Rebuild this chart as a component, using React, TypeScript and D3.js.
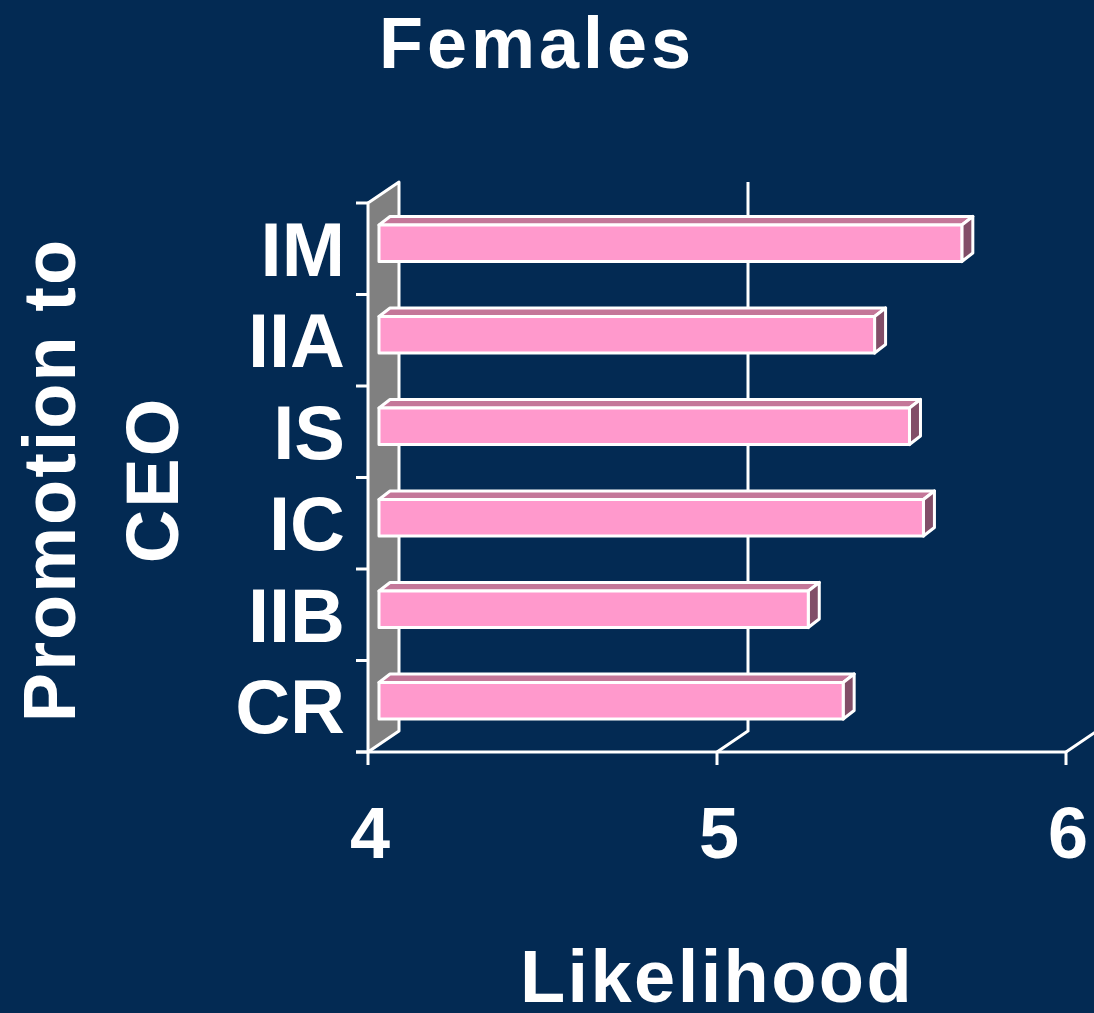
import React from 'react';
import * as d3 from 'd3';

// Promotion-to-CEO likelihood by group, female respondents
const categories = ['IM', 'IIA', 'IS', 'IC', 'IIB', 'CR'];
const likelihood = [5.67, 5.42, 5.52, 5.56, 5.23, 5.33];
const xTicks = [4, 5, 6];

const BG = '#032A53';
const FONT = '"Liberation Sans", Arial, Helvetica, sans-serif';
const LINE = 3;

export default function App() {
  const W = 1094;
  const H = 1013;

  const x = d3.scaleLinear().domain([4, 6]).range([368, 1066]);
  const y = d3.scaleBand<string>().domain(categories).range([203, 752]);
  const bw = y.bandwidth();

  // 3D box depth (back wall offset) and bar placement inside it
  const wallDx = 31;
  const wallDy = -21;
  const barShiftX = 11;
  const barShiftY = -5.5;
  const barDx = 11;
  const barDy = -8.5;
  const barH = bw * 0.4;

  const [y0, y1] = y.range();
  const pts = (p: number[][]) => p.map((q) => q.join(',')).join(' ');

  return (
    <svg
      width={W}
      height={H}
      style={{ position: 'absolute', left: 0, top: 0, display: 'block', background: BG }}
    >
      <rect x={0} y={0} width={W} height={H} fill={BG} />

      {/* side wall */}
      <polygon
        points={pts([
          [x(4), y0],
          [x(4) + wallDx, y0 + wallDy],
          [x(4) + wallDx, y1 + wallDy],
          [x(4), y1],
        ])}
        fill="#808080"
        stroke="#fff"
        strokeWidth={LINE}
        strokeLinejoin="round"
      />

      {/* gridlines on the back wall and floor */}
      {xTicks.slice(1).map((t) => (
        <polyline
          key={'g' + t}
          points={pts([
            [x(t) + wallDx, y0 + wallDy],
            [x(t) + wallDx, y1 + wallDy],
            [x(t), y1],
          ])}
          fill="none"
          stroke="#fff"
          strokeWidth={LINE}
        />
      ))}

      {/* front floor edge */}
      <line x1={356} x2={x(6)} y1={y1} y2={y1} stroke="#fff" strokeWidth={LINE} />

      {/* category ticks */}
      {d3.range(categories.length + 1).map((i) => {
        const ty = y0 + i * bw;
        return <line key={'yt' + i} x1={356} x2={x(4)} y1={ty} y2={ty} stroke="#fff" strokeWidth={LINE} />;
      })}

      {/* value ticks */}
      {xTicks.map((t) => (
        <line key={'xt' + t} x1={x(t)} x2={x(t)} y1={y1} y2={y1 + 13} stroke="#fff" strokeWidth={LINE} />
      ))}

      {/* bars */}
      {categories.map((c, i) => {
        const v = likelihood[i];
        const fx0 = x(4) + barShiftX;
        const fx1 = x(v) + barShiftX;
        const cy = (y(c) as number) + bw / 2 + barShiftY;
        const top = cy - barH / 2;
        const bottom = cy + barH / 2;
        return (
          <g key={c} stroke="#fff" strokeWidth={LINE} strokeLinejoin="round">
            <polygon
              points={pts([
                [fx0, top],
                [fx1, top],
                [fx1 + barDx, top + barDy],
                [fx0 + barDx, top + barDy],
              ])}
              fill="#C47799"
            />
            <polygon
              points={pts([
                [fx1, top],
                [fx1 + barDx, top + barDy],
                [fx1 + barDx, bottom + barDy],
                [fx1, bottom],
              ])}
              fill="#824E68"
            />
            <rect x={fx0} y={top} width={fx1 - fx0} height={barH} fill="#FF99CC" />
          </g>
        );
      })}

      {/* category labels */}
      {categories.map((c) => (
        <text
          key={'l' + c}
          x={345}
          y={(y(c) as number) + bw / 2 + 27}
          textAnchor="end"
          fill="#fff"
          fontFamily={FONT}
          fontWeight="bold"
          fontSize={76}
        >
          {c}
        </text>
      ))}

      {/* value tick labels */}
      {xTicks.map((t) => (
        <text
          key={'xl' + t}
          x={x(t) + 2}
          y={858}
          textAnchor="middle"
          fill="#fff"
          fontFamily={FONT}
          fontWeight="bold"
          fontSize={72}
        >
          {t}
        </text>
      ))}

      {/* title */}
      <text
        x={537}
        y={68}
        textAnchor="middle"
        fill="#fff"
        fontFamily={FONT}
        fontWeight="bold"
        fontSize={72}
        letterSpacing={4}
      >
        Females
      </text>

      {/* axis titles */}
      <text
        x={717}
        y={1002}
        textAnchor="middle"
        fill="#fff"
        fontFamily={FONT}
        fontWeight="bold"
        fontSize={74}
        letterSpacing={2.4}
      >
        Likelihood
      </text>
      <g transform="translate(0,480) rotate(-90)">
        <text
          x={0}
          y={75}
          textAnchor="middle"
          fill="#fff"
          fontFamily={FONT}
          fontWeight="bold"
          fontSize={74}
          letterSpacing={2}
        >
          Promotion to
        </text>
        <text
          x={0}
          y={178}
          textAnchor="middle"
          fill="#fff"
          fontFamily={FONT}
          fontWeight="bold"
          fontSize={74}
          letterSpacing={2}
        >
          CEO
        </text>
      </g>
    </svg>
  );
}
